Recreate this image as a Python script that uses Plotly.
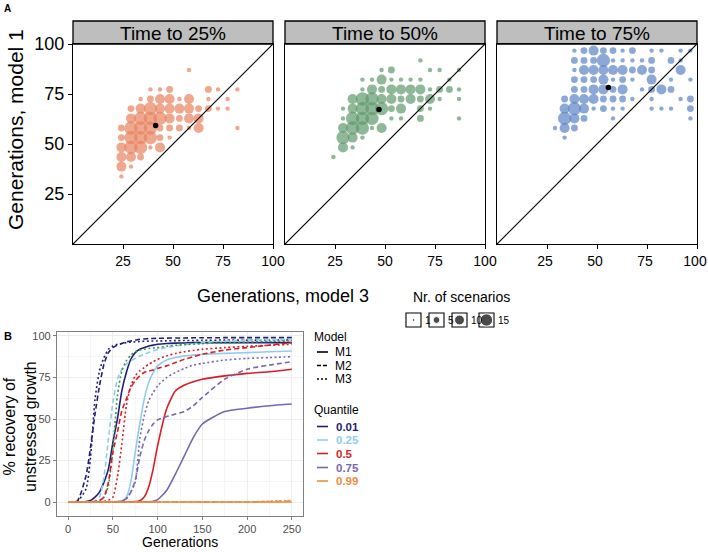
import numpy as np
import plotly.graph_objects as go

W, H = 708, 552
FONT = "Liberation Sans, Arial, sans-serif"

# ---------------- panel A: generations model 3 (x) vs model 1 (y) ----------------
A_TITLES = ["Time to 25%", "Time to 50%", "Time to 75%"]
A_COLORS = ["#E8825E", "#5E9A6B", "#5B83C6"]

t25_x = [58.0,
         38.7, 43.5, 48.3, 67.7, 72.5, 82.2,
         33.8, 38.7, 43.5, 48.3, 53.2, 58.0, 67.7, 77.3,
         29.0, 33.8, 38.7, 43.5, 48.3, 53.2, 58.0, 62.8, 67.7, 72.5, 77.3,
         29.0, 33.8, 38.7, 43.5, 48.3, 53.2, 58.0, 62.8,
         24.2, 29.0, 33.8, 38.7, 43.5, 48.3, 53.2, 58.0, 62.8, 82.2,
         24.2, 29.0, 33.8, 38.7, 43.5, 48.3,
         24.2, 29.0, 33.8, 38.7, 43.5,
         24.2, 29.0, 33.8,
         24.2, 29.0,
         24.2]
t25_y = [87.0,
         77.3, 77.3, 77.3, 77.3, 77.3, 77.3,
         72.5, 72.5, 72.5, 72.5, 72.5, 72.5, 72.5, 72.5,
         67.7, 67.7, 67.7, 67.7, 67.7, 67.7, 67.7, 67.7, 67.7, 67.7, 67.7,
         62.8, 62.8, 62.8, 62.8, 62.8, 62.8, 62.8, 62.8,
         58.0, 58.0, 58.0, 58.0, 58.0, 58.0, 58.0, 58.0, 58.0, 58.0,
         53.2, 53.2, 53.2, 53.2, 53.2, 53.2,
         48.3, 48.3, 48.3, 48.3, 48.3,
         43.5, 43.5, 43.5,
         38.7, 38.7,
         33.8]
t25_n = [1,
         1, 1, 3, 3, 1, 1,
         1, 3, 7, 7, 1, 7, 1, 1,
         3, 7, 13, 7, 7, 7, 7, 3, 3, 1, 1,
         7, 13, 13, 13, 7, 3, 7, 7,
         3, 13, 13, 13, 3, 3, 3, 1, 7, 1,
         3, 13, 13, 13, 3, 1,
         7, 13, 13, 1, 7,
         7, 7, 3,
         7, 1,
         1]

t50_x = [67.7,
         48.3, 53.2, 72.5, 77.3, 87.0,
         38.7, 43.5, 48.3, 53.2, 58.0, 62.8, 67.7, 82.2,
         38.7, 43.5, 48.3, 53.2, 58.0, 62.8, 67.7, 72.5, 77.3, 82.2, 87.0,
         33.8, 38.7, 43.5, 48.3, 53.2, 58.0, 62.8, 67.7, 72.5, 77.3, 87.0,
         29.0, 33.8, 38.7, 43.5, 48.3, 53.2, 58.0, 67.7, 72.5,
         29.0, 33.8, 38.7, 43.5, 53.2, 58.0, 67.7, 87.0,
         29.0, 33.8, 38.7, 43.5, 48.3,
         29.0, 33.8, 38.7,
         29.0, 33.8,
         24.2]
t50_y = [91.8,
         87.0, 87.0, 87.0, 87.0, 87.0,
         82.2, 82.2, 82.2, 82.2, 82.2, 82.2, 82.2, 82.2,
         77.3, 77.3, 77.3, 77.3, 77.3, 77.3, 77.3, 77.3, 77.3, 77.3, 77.3,
         72.5, 72.5, 72.5, 72.5, 72.5, 72.5, 72.5, 72.5, 72.5, 72.5, 72.5,
         67.7, 67.7, 67.7, 67.7, 67.7, 67.7, 67.7, 67.7, 67.7,
         62.8, 62.8, 62.8, 62.8, 62.8, 62.8, 62.8, 62.8,
         58.0, 58.0, 58.0, 58.0, 58.0,
         53.2, 53.2, 53.2,
         48.3, 48.3,
         43.5]
t50_n = [1,
         1, 3, 1, 1, 1,
         1, 1, 7, 1, 1, 1, 1, 1,
         1, 7, 3, 7, 7, 7, 7, 1, 3, 3, 1,
         7, 13, 13, 7, 7, 3, 7, 3, 7, 1, 1,
         1, 7, 13, 13, 13, 3, 7, 3, 1,
         1, 13, 13, 13, 1, 1, 3, 1,
         7, 13, 13, 1, 7,
         13, 7, 1,
         7, 1,
         1]

t75_x = [38.7, 43.5, 48.3, 53.2, 58.0, 62.8, 67.7, 77.3, 82.2, 91.8, 96.7,
         38.7, 43.5, 48.3, 53.2, 58.0, 62.8, 67.7, 72.5, 77.3, 87.0, 91.8,
         38.7, 43.5, 48.3, 53.2, 58.0, 62.8, 67.7, 72.5, 77.3, 91.8,
         38.7, 43.5, 48.3, 53.2, 58.0, 62.8, 67.7, 77.3, 87.0, 96.7,
         38.7, 43.5, 48.3, 53.2, 58.0, 62.8, 72.5, 77.3, 82.2, 87.0,
         33.8, 38.7, 43.5, 48.3, 53.2, 58.0, 62.8, 67.7, 77.3, 91.8, 96.7,
         33.8, 38.7, 43.5, 48.3, 53.2, 58.0, 62.8, 77.3, 82.2, 87.0, 96.7,
         33.8, 38.7, 43.5, 58.0, 96.7,
         29.0, 33.8, 38.7,
         33.8]
t75_y = [96.7, 96.7, 96.7, 96.7, 96.7, 96.7, 96.7, 96.7, 96.7, 96.7, 96.7,
         91.8, 91.8, 91.8, 91.8, 91.8, 91.8, 91.8, 91.8, 91.8, 91.8, 91.8,
         87.0, 87.0, 87.0, 87.0, 87.0, 87.0, 87.0, 87.0, 87.0, 87.0,
         82.2, 82.2, 82.2, 82.2, 82.2, 82.2, 82.2, 82.2, 82.2, 82.2,
         77.3, 77.3, 77.3, 77.3, 77.3, 77.3, 77.3, 77.3, 77.3, 77.3,
         72.5, 72.5, 72.5, 72.5, 72.5, 72.5, 72.5, 72.5, 72.5, 72.5, 72.5,
         67.7, 67.7, 67.7, 67.7, 67.7, 67.7, 67.7, 67.7, 67.7, 67.7, 67.7,
         62.8, 62.8, 62.8, 62.8, 62.8,
         58.0, 58.0, 58.0,
         53.2]
t75_n = [1, 3, 7, 3, 3, 1, 3, 1, 1, 1, 1,
         3, 3, 3, 13, 1, 1, 1, 1, 3, 3, 1,
         1, 7, 7, 7, 7, 7, 3, 7, 3, 7,
         3, 3, 3, 7, 1, 3, 1, 7, 1, 1,
         3, 3, 7, 7, 3, 7, 1, 3, 7, 3,
         3, 7, 7, 7, 3, 3, 3, 1, 1, 1, 3,
         7, 13, 7, 1, 3, 1, 1, 1, 1, 1, 3,
         13, 7, 3, 1, 1,
         1, 7, 3,
         1]

mean_x = [41.3, 47.0, 55.7]
mean_y = [59.2, 67.3, 78.2]

legend_counts = [1, 5, 10, 15]
A_TICKS = [25, 50, 75, 100]

# ---------------- panel B: recovery curves ----------------
GEN = [0, 10, 20, 25, 30, 35, 40, 45, 50, 55, 60, 65, 70, 75, 80, 85, 90, 95,
       100, 110, 120, 130, 140, 150, 175, 200, 225, 250]

q01_m1 = [0, 0, 0.3, 1, 3, 6, 12, 20, 36, 50, 67, 78, 86, 90, 92, 93, 94, 94.5,
          95, 95.5, 95.7, 95.8, 96, 96, 96, 96, 96, 96]
q01_m2 = [0, 0.5, 16, 33, 53, 70, 83, 90, 93, 94.5, 95.5, 96.5, 97, 97.5, 98, 98.2, 98.4, 98.5,
          98.6, 98.7, 98.8, 98.8, 98.9, 98.9, 99, 99, 99, 99]
q01_m3 = [0, 0.3, 8, 27, 62, 79, 87, 92, 94, 95, 95.5, 96, 96.3, 96.5, 96.7, 96.8, 96.9, 97,
          97, 97.1, 97.2, 97.3, 97.3, 97.4, 97.5, 97.5, 97.6, 97.6]
q25_m1 = [0, 0, 0, 0, 0, 0, 0, 0.1, 0.2, 0.4, 0.8, 3, 12, 30, 47, 62, 72, 78,
          82, 85.5, 87, 88, 88.5, 89, 89.5, 90, 90.5, 91]
q25_m2 = [0, 0, 0, 0.2, 0.8, 3, 15, 38, 60, 74, 80, 83, 85, 86.5, 88, 89, 90, 91,
          92, 93, 94, 94.7, 95.3, 96, 97, 97.5, 97.8, 98]
q25_m3 = [0, 0, 0, 0, 0.3, 0.8, 3, 10, 32, 64, 79, 85, 88.5, 90.5, 91.5, 92, 92.5, 92.8,
          93, 93.8, 94.4, 94.8, 95.1, 95.4, 95.9, 96.3, 96.7, 97]
q50_m1 = [0, 0, 0, 0, 0, 0, 0, 0, 0, 0, 0.1, 0.1, 0.2, 0.3, 0.8, 3, 9, 20,
          34, 56, 67, 70.5, 72.5, 74, 76, 77.5, 78.5, 80]
q50_m2 = [0, 0, 0, 0, 0.3, 1, 3, 12, 30, 42, 55, 62, 69, 73, 76, 78, 79, 79.5,
          80.5, 82, 84, 86, 87.5, 89, 91.5, 93, 94.5, 96]
q50_m3 = [0, 0, 0, 0, 0, 0.1, 0.3, 1, 3, 15, 35, 58, 70, 76, 79, 81, 83, 84.5,
          86, 88, 89.5, 90.5, 91.3, 92, 93, 93.8, 94.4, 95]
q75_m1 = [0, 0, 0, 0, 0, 0, 0, 0, 0, 0, 0, 0, 0, 0, 0, 0.1, 0.2, 0.5,
          1.5, 7, 17, 28, 39, 47, 54.5, 56.5, 58, 59]
q75_m2 = [0, 0, 0, 0, 0, 0, 0, 0, 0.1, 0.2, 0.5, 2, 6, 13, 27, 37, 43, 47,
          49.5, 51.5, 53, 54.5, 58, 63, 74, 80, 82.5, 84.5]
q75_m3 = [0, 0, 0, 0, 0, 0, 0, 0, 0.1, 0.2, 0.5, 2, 6, 12, 38, 52, 61, 66,
          70, 75, 78, 80.5, 82.5, 83.5, 85.5, 86.5, 87, 87.5]
q99_m1 = [0, 0, 0, 0, 0, 0, 0, 0, 0, 0, 0, 0, 0, 0, 0, 0, 0, 0,
          0, 0, 0, 0, 0, 0, 0, 0, 0, 0]
q99_m2 = [0, 0, 0, 0, 0, 0, 0, 0, 0, 0, 0, 0, 0, 0, 0, 0, 0, 0,
          0, 0, 0, 0, 0, 0, 0, 0, 0.3, 0.6]
q99_m3 = [0, 0, 0, 0, 0, 0, 0, 0, 0, 0, 0, 0, 0, 0, 0, 0, 0, 0,
          0, 0, 0, 0, 0, 0, 0, 0, 0.5, 0.9]

QUANTILES = ["0.01", "0.25", "0.5", "0.75", "0.99"]
MODELS = ["M1", "M2", "M3"]
Q_COLORS = ["#221E74", "#8FCDEA", "#D71E26", "#7667AF", "#F08A3C"]
M3_025_COLOR = "#2E9B4A"  # the 0.25/M3 curve shows up green in the figure
DASHES = {"M1": "solid", "M2": "5px,3px", "M3": "2px,2.5px"}
curves = {
    "0.01": [q01_m1, q01_m2, q01_m3],
    "0.25": [q25_m1, q25_m2, q25_m3],
    "0.5": [q50_m1, q50_m2, q50_m3],
    "0.75": [q75_m1, q75_m2, q75_m3],
    "0.99": [q99_m1, q99_m2, q99_m3],
}


def px_x(v):
    return v / W


def px_y(v):
    return 1 - v / H


def dot_size(n):
    return 1.0 + 3.4 * np.sqrt(np.asarray(n, dtype=float))


def note(text, x, y, size, color="black", **kw):
    # text placed in pixel coordinates of the figure (overlay axis x5/y5)
    d = dict(text=text, xref="x5", yref="y5", x=x, y=y, showarrow=False,
             xanchor="center", yanchor="middle",
             font=dict(size=size, color=color, family=FONT))
    d.update(kw)
    return d


fig = go.Figure()

# panel A domains (pixel based)
A_X = [(73, 273), (285, 485), (497, 697)]
A_Y = (44, 244)
STRIP = (21, 44)
points = [(t25_x, t25_y, t25_n), (t50_x, t50_y, t50_n), (t75_x, t75_y, t75_n)]

shapes, annotations = [], []
for i, ((x0, x1), (xs, ys, ns)) in enumerate(zip(A_X, points)):
    k = "" if i == 0 else str(i + 1)
    fig.add_trace(go.Scatter(
        x=xs, y=ys, mode="markers", xaxis="x" + k, yaxis="y" + k,
        marker=dict(size=dot_size(ns), color=A_COLORS[i], line=dict(width=0)),
        showlegend=False, hoverinfo="skip",
    ))
    fig.add_trace(go.Scatter(
        x=[0, 100], y=[0, 100], mode="lines", xaxis="x" + k, yaxis="y" + k,
        line=dict(color="black", width=1.2), showlegend=False, hoverinfo="skip",
    ))
    fig.add_trace(go.Scatter(
        x=[mean_x[i]], y=[mean_y[i]], mode="markers", xaxis="x" + k, yaxis="y" + k,
        marker=dict(size=5.5, color="black"), showlegend=False, hoverinfo="skip",
    ))
    ax = dict(domain=[px_x(x0), px_x(x1)], range=[0, 100], showgrid=False, zeroline=False,
              showline=True, mirror=True, linecolor="black", linewidth=1.3,
              ticks="outside", ticklen=4, tickcolor="black", tickvals=A_TICKS,
              tickfont=dict(size=14, color="black", family=FONT), ticklabeloverflow="allow",
              ticklabelshift=-2 if i == 2 else 0,
              anchor="y" + k, automargin=False)
    ay = dict(domain=[px_y(A_Y[1]), px_y(A_Y[0])], range=[0, 100], showgrid=False, zeroline=False,
              showline=True, mirror=True, linecolor="black", linewidth=1.3,
              tickvals=A_TICKS, ticks="outside" if i == 0 else "", ticklen=4, tickcolor="black",
              showticklabels=(i == 0), tickfont=dict(size=18, color="black", family=FONT),
              anchor="x" + k, automargin=False)
    fig.layout["xaxis" + k] = ax
    fig.layout["yaxis" + k] = ay
    shapes.append(dict(type="rect", xref="paper", yref="paper",
                       x0=px_x(x0), x1=px_x(x1), y0=px_y(STRIP[1]), y1=px_y(STRIP[0]),
                       fillcolor="#BEBEBE", line=dict(color="black", width=1.3), layer="below"))
    annotations.append(note(A_TITLES[i], (x0 + x1) / 2, (STRIP[0] + STRIP[1]) / 2 + 0.5, 19))

# panel B
B_X = (57, 303)
B_Y = (332, 516)
for qi, q in enumerate(QUANTILES):
    for mi, m in enumerate(MODELS):
        col = M3_025_COLOR if (q == "0.25" and m == "M3") else Q_COLORS[qi]
        fig.add_trace(go.Scatter(
            x=GEN, y=curves[q][mi], mode="lines", xaxis="x4", yaxis="y4",
            line=dict(color=col, width=1.6, dash=DASHES[m], shape="spline", smoothing=0.6),
            showlegend=False, hoverinfo="skip",
        ))
fig.layout["xaxis4"] = dict(domain=[px_x(B_X[0]), px_x(B_X[1])], range=[-12.5, 262.5],
                            tickvals=[0, 50, 100, 150, 200, 250], showgrid=True,
                            gridcolor="#EDEDED", gridwidth=0.6, zeroline=False,
                            minor=dict(tickvals=[25, 75, 125, 175, 225], showgrid=True,
                                       gridcolor="#F5F5F5", gridwidth=0.4),
                            showline=True, mirror=True, linecolor="#7F7F7F", linewidth=1.2,
                            ticks="outside", ticklen=3, tickcolor="#7F7F7F",
                            tickfont=dict(size=11, color="#4D4D4D", family=FONT),
                            anchor="y4", automargin=False)
fig.layout["yaxis4"] = dict(domain=[px_y(B_Y[1]), px_y(B_Y[0])], range=[-8.4, 102.4],
                            tickvals=[0, 25, 50, 75, 100], showgrid=True,
                            gridcolor="#EDEDED", gridwidth=0.6, zeroline=False,
                            minor=dict(tickvals=[12.5, 37.5, 62.5, 87.5], showgrid=True,
                                       gridcolor="#F5F5F5", gridwidth=0.4),
                            showline=True, mirror=True, linecolor="#7F7F7F", linewidth=1.2,
                            ticks="outside", ticklen=3, tickcolor="#7F7F7F",
                            tickfont=dict(size=11, color="#4D4D4D", family=FONT),
                            anchor="x4", automargin=False)

# pixel overlay axis for the size legend keys and free text
fig.layout["xaxis5"] = dict(domain=[0, 1], range=[0, W], visible=False, fixedrange=True,
                            anchor="y5", automargin=False)
fig.layout["yaxis5"] = dict(domain=[0, 1], range=[H, 0], visible=False, fixedrange=True,
                            anchor="x5", automargin=False)
KEY_X = [406, 429, 452, 479]
KEY_W = 15
KEY_Y = (313, 327)
fig.add_trace(go.Scatter(
    x=[kx + KEY_W / 2 for kx in KEY_X], y=[(KEY_Y[0] + KEY_Y[1]) / 2] * 4,
    mode="markers", xaxis="x5", yaxis="y5",
    marker=dict(size=dot_size(legend_counts) - 1.8, color="black"),
    showlegend=False, hoverinfo="skip",
))
for kx, c in zip(KEY_X, legend_counts):
    shapes.append(dict(type="rect", xref="x5", yref="y5", x0=kx, x1=kx + KEY_W,
                       y0=KEY_Y[0], y1=KEY_Y[1], line=dict(color="black", width=1.1),
                       fillcolor="white", layer="below"))
    annotations.append(note(str(c), kx + KEY_W + 1.5, (KEY_Y[0] + KEY_Y[1]) / 2, 10,
                            xanchor="left"))

# B legends (Model / Quantile)
LEG_X0, LEG_X1, LEG_TX = 317, 328, 333
annotations.append(note("Model", 312, 337, 12, xanchor="left"))
for m, yy in zip(MODELS, [352, 365.5, 379]):
    shapes.append(dict(type="line", xref="x5", yref="y5", x0=LEG_X0, x1=LEG_X1, y0=yy, y1=yy,
                       line=dict(color="black", width=1.6,
                                 dash={"M1": "solid", "M2": "4px,2px", "M3": "2px,2px"}[m])))
    annotations.append(note(m, LEG_TX, yy, 12, xanchor="left"))
annotations.append(note("Quantile", 312, 409.5, 12, xanchor="left"))
for q, c, yy in zip(QUANTILES, Q_COLORS, [426.5, 440, 453.5, 467.5, 481]):
    shapes.append(dict(type="line", xref="x5", yref="y5", x0=LEG_X0, x1=LEG_X1, y0=yy, y1=yy,
                       line=dict(color=c, width=1.6)))
    annotations.append(note("<b>%s</b>" % q, LEG_TX + 1, yy, 11.5, color=c, xanchor="left"))

# titles and panel letters
annotations += [
    note("<b>A</b>", 2, 8, 10, xanchor="left"),
    note("<b>B</b>", 2, 336, 11, xanchor="left"),
    note("Generations, model 1", 15, 130, 21, textangle=-90),
    note("Generations, model 3", 283, 296, 18),
    note("Nr. of scenarios", 461, 297, 14),
    note("% recovery of<br>unstressed growth", 20, 427, 16, textangle=-90),
    note("Generations", 180, 542, 14),
]

fig.update_layout(
    width=W, height=H, margin=dict(l=0, r=0, t=0, b=0, autoexpand=False),
    paper_bgcolor="white", plot_bgcolor="rgba(0,0,0,0)",
    font=dict(family=FONT, color="black"),
    shapes=shapes, annotations=annotations, showlegend=False,
)

# the page's default 8px body margin would push the 708x552 figure off the window
fig.write_html(
    "out.html",
    config={"displayModeBar": False},
    post_script="document.body.style.margin='0px';",
)
